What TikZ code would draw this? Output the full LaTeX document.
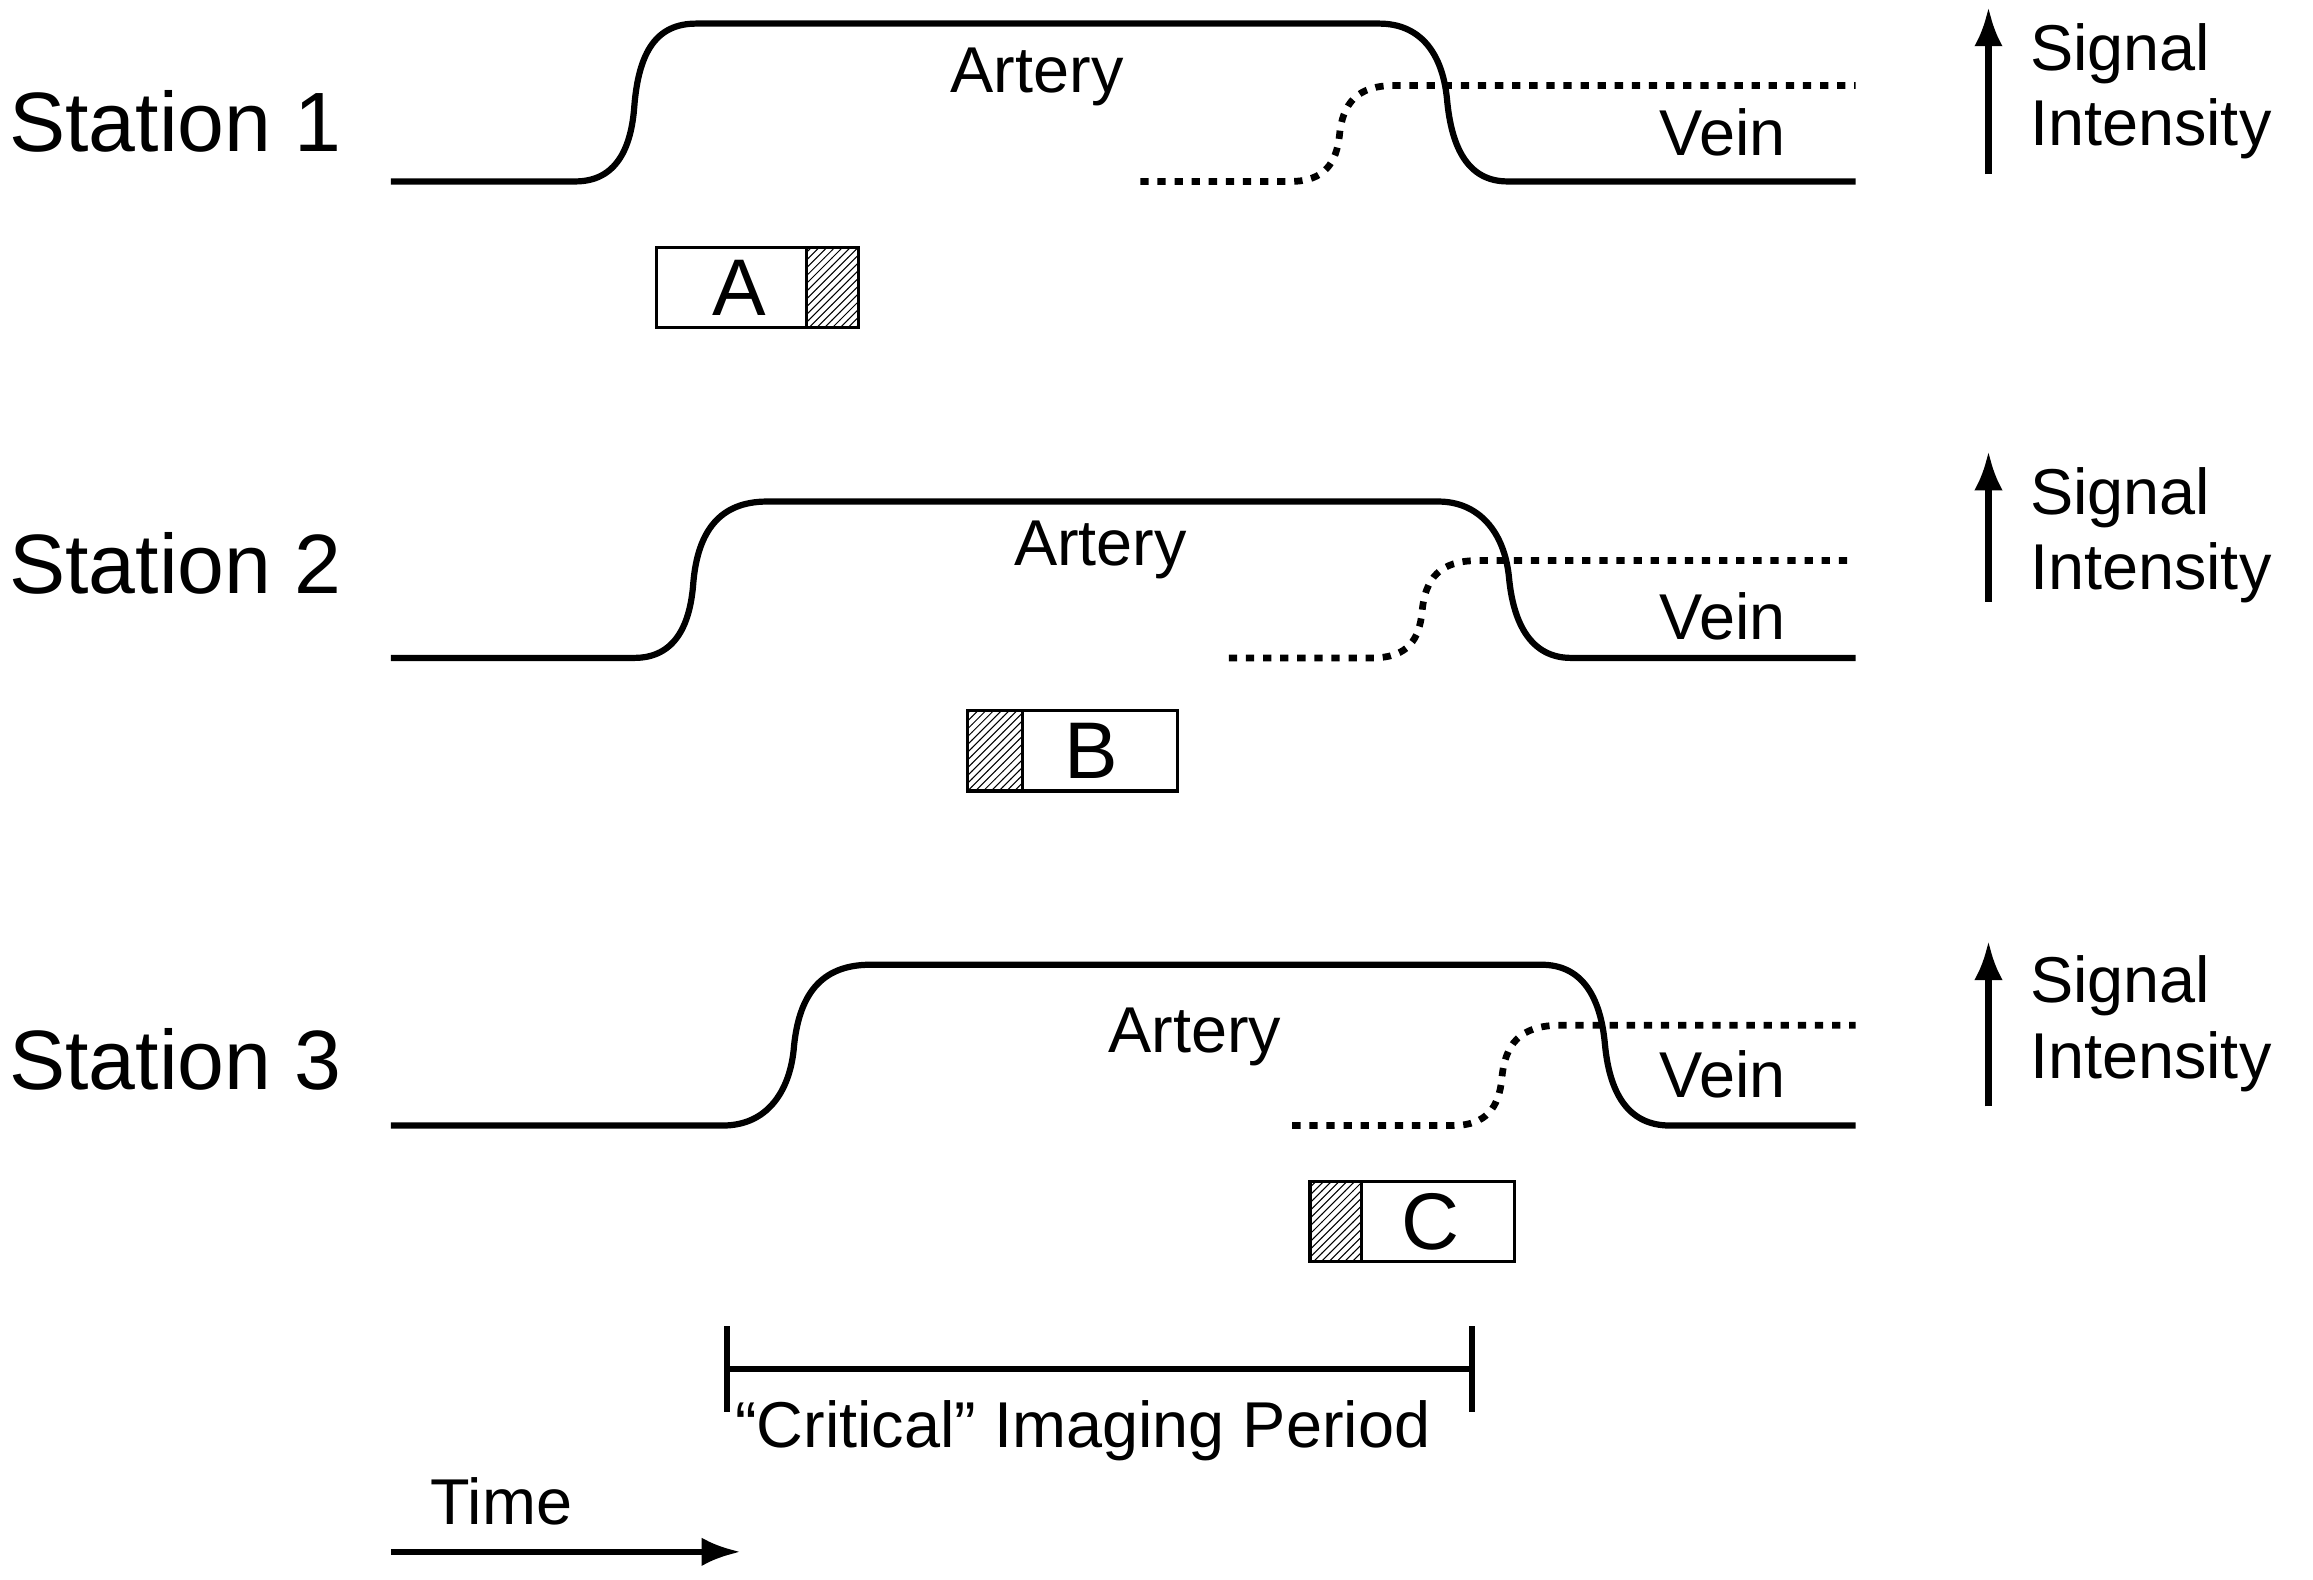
\documentclass[tikz,border=0pt]{standalone}
\usepackage{fontspec}
\setmainfont{Liberation Sans}
\usetikzlibrary{positioning}
\usetikzlibrary{patterns}
\usetikzlibrary{arrows.meta}
\tikzset{
  Kurve/.style={line width=2.4pt},
  Vene/.style={line width=2.6pt, dash pattern=on 3.2pt off 3.4pt},
  Pfeil/.style={line width=2.4pt, -{Latex[length=15pt,width=11pt]}},
  Station/.style={font=\fontsize{32.5}{34}\selectfont, anchor=west},
  Label/.style={font=\fontsize{25}{29}\selectfont},
  Box/.style={draw, line width=1.2pt, minimum height=31pt, inner sep=0pt, font=\fontsize{31}{31}\selectfont},
  Schraffur/.style={draw, line width=1.2pt, pattern=north east lines, minimum height=31pt, inner sep=0pt}
}
\begin{document}
\begin{tikzpicture}[x=0.02cm, y=-0.02cm]
\useasboundingbox (0,0) rectangle (1568,1071);

% Station 1
\node[Station] (S1) at (0,82) {Station 1};
\draw[Kurve] (265,123) -- (390,123) .. controls (418,123) and (428,100) .. (430,72)
  .. controls (433,35) and (445,16) .. (472,16)
  -- (935,16) .. controls (962,16) and (978,35) .. (981,68)
  .. controls (984,100) and (995,123) .. (1022,123) -- (1258,123);
\draw[Vene] (773,123) -- (875,123) .. controls (898,123) and (906,110) .. (908,92)
  .. controls (910,70) and (920,58) .. (945,58) -- (1258,58);
\node[Label] (A1) at (703,52) {Artery};
\node[Label] (V1) at (1168,90) {Vein};
\node[Box, minimum width=78pt, anchor=west] (BA) at (444,195) {\hspace*{-14pt}A};
\node[Schraffur, minimum width=20pt, anchor=east] (HA) at (BA.east) {};
\coordinate (P1u) at (1348,118); \coordinate (P1o) at (1348,5);
\draw[Pfeil] (P1u) -- (P1o);
\node[Label, anchor=west, align=left] (SI1) at (1370,62) {Signal\\Intensity};

% Station 2
\node[Station] (S2) at (0,382) {Station 2};
\draw[Kurve] (265,446) -- (430,446) .. controls (458,446) and (468,423) .. (470,395)
  .. controls (473,360) and (488,340) .. (520,340)
  -- (975,340) .. controls (1002,340) and (1020,360) .. (1023,392)
  .. controls (1026,423) and (1038,446) .. (1065,446) -- (1258,446);
\draw[Vene] (833,446) -- (930,446) .. controls (955,446) and (962,433) .. (964,415)
  .. controls (966,392) and (976,380) .. (1002,380) -- (1258,380);
\node[Label] (A2) at (746,373) {Artery};
\node[Label] (V2) at (1168,418) {Vein};
\node[Box, minimum width=81pt, anchor=west] (BB) at (655,509) {\hspace*{14pt}B};
\node[Schraffur, minimum width=21pt, anchor=west] (HB) at (BB.west) {};
\coordinate (P2u) at (1348,408); \coordinate (P2o) at (1348,306);
\draw[Pfeil] (P2u) -- (P2o);
\node[Label, anchor=west, align=left] (SI2) at (1370,363) {Signal\\Intensity};

% Station 3
\node[Station] (S3) at (0,718) {Station 3};
\draw[Kurve] (265,763) -- (490,763) .. controls (520,763) and (535,740) .. (538,712)
  .. controls (541,675) and (556,654) .. (590,654)
  -- (1045,654) .. controls (1072,654) and (1085,675) .. (1088,708)
  .. controls (1091,740) and (1103,763) .. (1132,763) -- (1258,763);
\draw[Vene] (876,763) -- (985,763) .. controls (1008,763) and (1016,750) .. (1018,732)
  .. controls (1020,708) and (1030,695) .. (1058,695) -- (1258,695);
\node[Label] (A3) at (810,703) {Artery};
\node[Label] (V3) at (1168,728) {Vein};
\node[Box, minimum width=79pt, anchor=west] (BC) at (887,828) {\hspace*{14pt}C};
\node[Schraffur, minimum width=20pt, anchor=west] (HC) at (BC.west) {};
\coordinate (P3u) at (1348,750); \coordinate (P3o) at (1348,638);
\draw[Pfeil] (P3u) -- (P3o);
\node[Label, anchor=west, align=left] (SI3) at (1370,694) {Signal\\Intensity};

% kritische Phase
\coordinate (K1) at (493,928); \coordinate (K2) at (998,928);
\draw[Kurve] (K1) -- (K2);
\draw[Kurve] ([yshift=-0.58cm]K1) -- ([yshift=0.58cm]K1);
\draw[Kurve] ([yshift=-0.58cm]K2) -- ([yshift=0.58cm]K2);
\node[Label] (KP) at (734,970) {“Critical” Imaging Period};

% Zeit
\node[Label] (T) at (340,1018) {Time};
\coordinate (T1) at (265,1052); \coordinate (T2) at (502,1052);
\draw[Pfeil] (T1) -- (T2);
\end{tikzpicture}
\end{document}
